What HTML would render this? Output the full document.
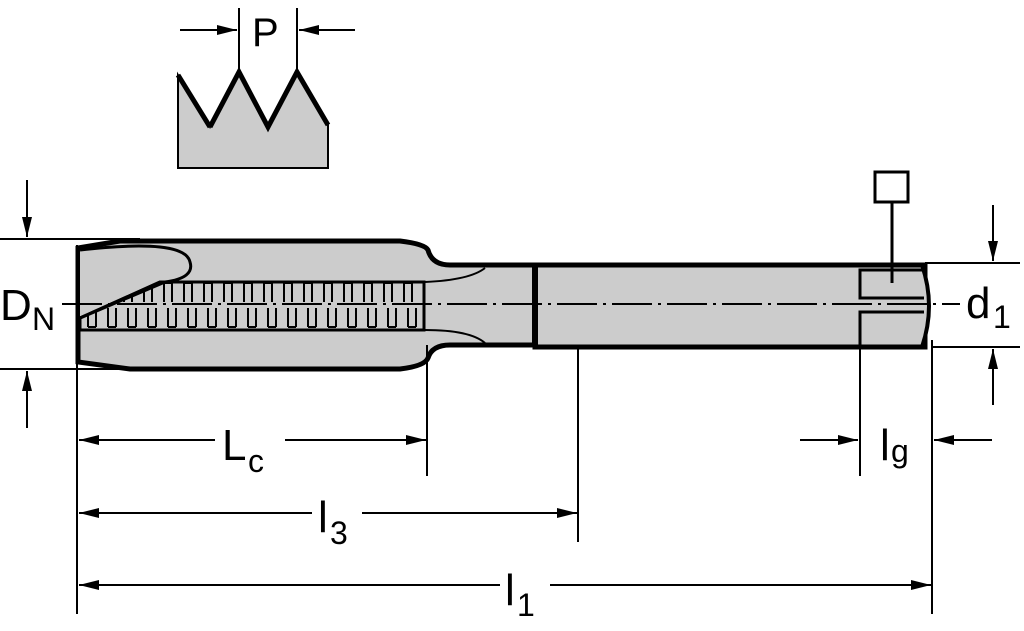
<!DOCTYPE html>
<html><head><style>html,body{margin:0;padding:0;background:#fff}svg{display:block}text{font-family:"Liberation Sans",sans-serif;fill:#000}</style></head>
<body>
<svg width="1024" height="631" viewBox="0 0 1024 631" xmlns="http://www.w3.org/2000/svg">
<defs>
<marker id="a" viewBox="0 0 20 10" refX="20" refY="5" markerWidth="20" markerHeight="10" markerUnits="userSpaceOnUse" orient="auto"><path d="M0,0 L20,5 L0,10 z" fill="#000"/></marker>
<pattern id="th" width="20" height="50" patternUnits="userSpaceOnUse" x="0" y="280">
<path d="M4,3 V22 M12,3 V22 M4,3 H12 M8,28 V47 M16,28 V47 M8,47 H16" stroke="#000" stroke-width="2" fill="none"/>
</pattern>
</defs>
<!-- thread profile -->
<path d="M178,75 L210,127 L239,72 L268,127 L297,72 L328,125 L328,168 L178,168 Z" fill="#ccc" stroke="none"/>
<path d="M178,168 L178,75 L210,127 L239,72 L268,127 L297,72 L328,125 L328,168 Z" fill="none" stroke="#000" stroke-width="2"/>
<path d="M210,127 L239,72 L268,127 L297,72 L328,125 M178,75 L210,127" fill="none" stroke="#000" stroke-width="5"/>
<path d="M239,8 V72 M297,8 V72" stroke="#000" stroke-width="2"/>
<line x1="180" y1="30" x2="237" y2="30" stroke="#000" stroke-width="2" marker-end="url(#a)"/>
<line x1="355" y1="30" x2="299" y2="30" stroke="#000" stroke-width="2" marker-end="url(#a)"/>
<text x="252" y="46" font-size="40">P</text>

<!-- body -->
<path d="M78,248 L120,241 L400,241 Q425,244 428,250 Q432,265 450,265 L535,265 L535,345 L450,345 Q432,345 428,358 Q425,366 400,369 L130,369 L78,362 Z" fill="#ccc" stroke="#000" stroke-width="5"/>
<rect x="535" y="265" width="390" height="82" fill="#ccc" stroke="#000" stroke-width="5"/>
<path d="M922,265 Q936,306 922,347" fill="#ccc" stroke="#000" stroke-width="4"/>
<line x1="535" y1="265" x2="535" y2="347" stroke="#000" stroke-width="6"/>
<!-- flute -->
<path d="M80,250 Q185,238 190,262 Q195,278 165,282 L80,318" fill="#ccc" stroke="#000" stroke-width="3"/>
<!-- threaded -->
<path d="M80,318 L160,282 L424,282 L424,330 L80,330 Z" fill="url(#th)" stroke="#000" stroke-width="3"/>
<path d="M80,318 L160,282" stroke="#000" stroke-width="3"/>
<path d="M425,282 Q470,280 485,268 M425,330 Q470,330 485,343" stroke="#000" stroke-width="2" fill="none"/>
<!-- centerline -->
<line x1="62" y1="304" x2="960" y2="304" stroke="#000" stroke-width="2" stroke-dasharray="40,6,3,6"/>
<!-- slot -->
<path d="M924,270 L860,270 L860,298 L924,298 M924,312 L860,312 L860,347" fill="none" stroke="#000" stroke-width="3"/>
<rect x="875" y="172" width="33" height="30" fill="none" stroke="#000" stroke-width="3"/>
<line x1="892" y1="202" x2="892" y2="283" stroke="#000" stroke-width="3"/>

<!-- DN -->
<path d="M0,239 H140 M0,369 H140" stroke="#000" stroke-width="2"/>
<line x1="27" y1="180" x2="27" y2="237" stroke="#000" stroke-width="2" marker-end="url(#a)"/>
<line x1="27" y1="428" x2="27" y2="371" stroke="#000" stroke-width="2" marker-end="url(#a)"/>
<text x="0" y="320" font-size="44">D</text><text x="32" y="330" font-size="32">N</text>

<!-- d1 -->
<path d="M925,263 H1020 M932,347 H1020" stroke="#000" stroke-width="2"/>
<line x1="993" y1="205" x2="993" y2="261" stroke="#000" stroke-width="2" marker-end="url(#a)"/>
<line x1="993" y1="405" x2="993" y2="349" stroke="#000" stroke-width="2" marker-end="url(#a)"/>
<text x="966" y="318" font-size="44">d</text><text x="993" y="328" font-size="32">1</text>

<!-- extension lines -->
<path d="M77,245 V614 M427,345 V476 M578,348 V542 M860,347 V476 M932,340 V614" stroke="#000" stroke-width="2"/>

<!-- Lc -->
<line x1="215" y1="440" x2="79" y2="440" stroke="#000" stroke-width="2" marker-end="url(#a)"/>
<line x1="285" y1="440" x2="426" y2="440" stroke="#000" stroke-width="2" marker-end="url(#a)"/>
<text x="222" y="460" font-size="44">L</text><text x="248" y="472" font-size="32">c</text>
<!-- l3 -->
<line x1="312" y1="513" x2="79" y2="513" stroke="#000" stroke-width="2" marker-end="url(#a)"/>
<line x1="362" y1="513" x2="577" y2="513" stroke="#000" stroke-width="2" marker-end="url(#a)"/>
<text x="318" y="532" font-size="44">l</text><text x="330" y="544" font-size="32">3</text>
<!-- l1 -->
<line x1="500" y1="585" x2="79" y2="585" stroke="#000" stroke-width="2" marker-end="url(#a)"/>
<line x1="550" y1="585" x2="931" y2="585" stroke="#000" stroke-width="2" marker-end="url(#a)"/>
<text x="505" y="605" font-size="44">l</text><text x="517" y="616" font-size="32">1</text>
<!-- lg -->
<line x1="800" y1="440" x2="858" y2="440" stroke="#000" stroke-width="2" marker-end="url(#a)"/>
<line x1="992" y1="440" x2="934" y2="440" stroke="#000" stroke-width="2" marker-end="url(#a)"/>
<text x="880" y="460" font-size="44">l</text><text x="891" y="462" font-size="32">g</text>
</svg>
</body></html>
